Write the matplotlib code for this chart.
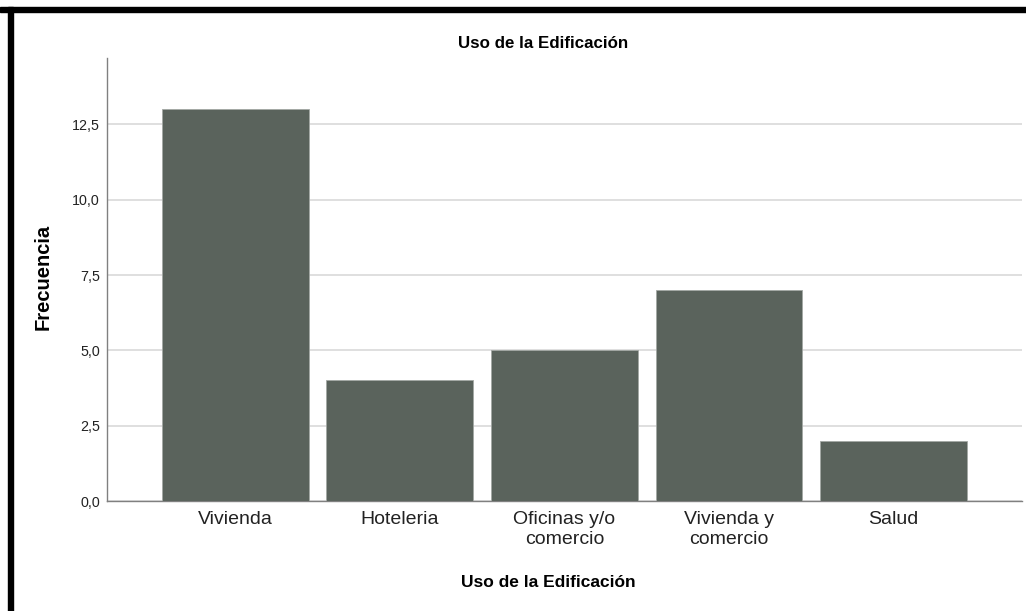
import matplotlib.pyplot as plt
from matplotlib.patches import Rectangle
from matplotlib.ticker import FuncFormatter

categorias = ["Vivienda", "Hoteleria", "Oficinas y/o\ncomercio", "Vivienda y\ncomercio", "Salud"]
frecuencias = [13, 4, 5, 7, 2]
y_ticks = [0.0, 2.5, 5.0, 7.5, 10.0, 12.5]

plt.rcParams['font.family'] = ['Liberation Sans', 'DejaVu Sans']

fig = plt.figure(figsize=(10.26, 6.11), dpi=100)
ax = fig.add_axes([0.1043, 0.18, 0.8917, 0.725])

x = range(len(categorias))
ax.bar(x, frecuencias, width=0.893, color='#5a635c', edgecolor='#a3a8a4',
       linewidth=0.6, zorder=3)

ax.set_xlim(-0.78, 4.78)
ax.set_ylim(0, 14.7)
ax.set_yticks(y_ticks)
ax.yaxis.set_major_formatter(FuncFormatter(lambda v, p: f"{v:.1f}".replace('.', ',')))
ax.set_xticks(list(x))
ax.set_xticklabels(categorias, fontsize=14, linespacing=1.22)
ax.tick_params(axis='y', labelsize=10.3, length=0, pad=5, colors='#222222')
ax.tick_params(axis='x', length=0, pad=7, colors='#222222')

ax.grid(axis='y', color='#d9d9d9', linewidth=1.2, zorder=0)
for side in ['top', 'right']:
    ax.spines[side].set_visible(False)
for side in ['left', 'bottom']:
    ax.spines[side].set_color('#808080')
    ax.spines[side].set_linewidth(1.0)

fig.text(543 / 1026, 1 - 48 / 611, "Uso de la Edificación",
         fontsize=12.2, fontweight='bold', ha='center', va='baseline')
fig.text(548 / 1026, 1 - 587 / 611, "Uso de la Edificación",
         fontsize=12.5, fontweight='bold', ha='center', va='baseline')
fig.text(43 / 1026, 1 - 277 / 611, "Frecuencia", fontsize=14.5, fontweight='bold',
         rotation=90, ha='center', va='center')

# black frame around the screenshot (top and left)
fig.patches.append(Rectangle((0, 1 - 12 / 611), 1, 5 / 611, transform=fig.transFigure,
                             color='black', zorder=10))
fig.patches.append(Rectangle((8 / 1026, 0), 5 / 1026, 1 - 7 / 611, transform=fig.transFigure,
                             color='black', zorder=10))

plt.savefig("out.png", dpi=100)
